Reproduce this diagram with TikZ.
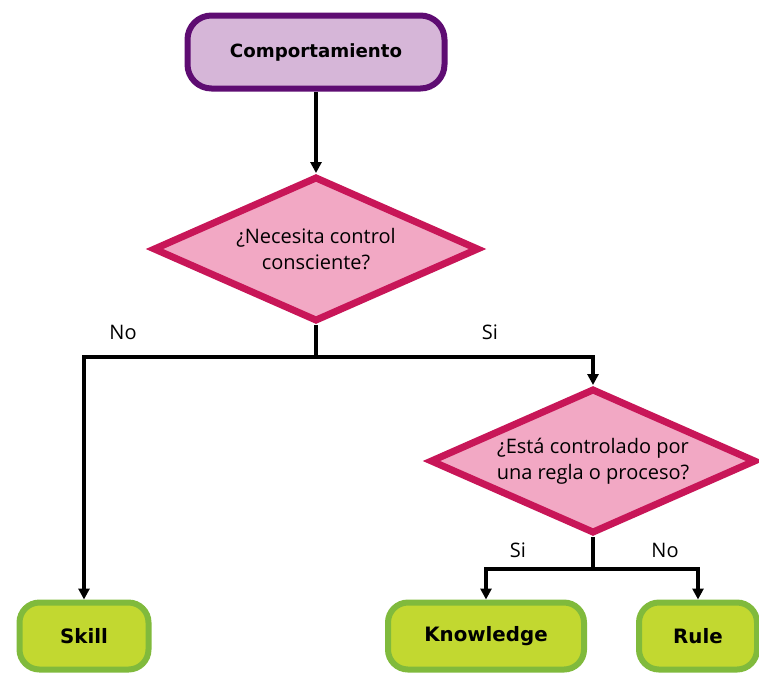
\documentclass[tikz,border=0pt]{standalone}
\usepackage{fontspec}
\setmainfont{Open Sans}
\newfontfamily\boxfont{DejaVu Sans}
\usetikzlibrary{arrows.meta,shapes.geometric}

\definecolor{purpleline}{RGB}{94,12,114}
\definecolor{purplefill}{RGB}{214,182,216}
\definecolor{pinkline}{RGB}{200,22,88}
\definecolor{pinkfill}{RGB}{242,168,196}
\definecolor{greenline}{RGB}{128,186,60}
\definecolor{greenfill}{RGB}{194,216,48}

\tikzset{
  startbox/.style={draw=purpleline,fill=purplefill,line width=6,rounded corners=24,
    minimum width=257,minimum height=73,inner sep=0,
    font=\boxfont\bfseries\fontsize{18.2}{21}\selectfont},
  question/.style={diamond,draw=pinkline,fill=pinkfill,line width=7,inner sep=0,
    shape aspect=2.3,minimum width=326,minimum height=145,align=center,
    font=\fontsize{20}{26}\selectfont},
  endbox/.style={draw=greenline,fill=greenfill,line width=6,rounded corners=20,
    minimum height=67,inner sep=0,
    font=\boxfont\bfseries\fontsize{19.8}{22}\selectfont},
  link/.style={line width=4,black},
  arrowlink/.style={link,-{Triangle[width=11,length=11]}},
  answer/.style={font=\fontsize{20}{22}\selectfont}
}

\begin{document}
\begin{tikzpicture}[x=1pt,y=1pt,yscale=-1,xscale=1]
\useasboundingbox (0,0) rectangle (759,673);

%Shape: start
\node[startbox] (comp) at (316,52) {Comportamiento};

%Shape: first question
\node[question] (q1) at (316,249) {¿Necesita control\\consciente?};

%Shape: second question
\node[question] (q2) at (593,461) {¿Está controlado por\\una regla o proceso?};

%Shape: end boxes
\node[endbox,minimum width=129] (skill) at (84,636) {Skill};
\node[endbox,minimum width=196] (know) at (486,636) {Knowledge};
\node[endbox,minimum width=118] (rule) at (698,636) {Rule};

%Branch points
\coordinate (b1) at (316,357);
\coordinate (b2) at (593,569);

%Connectors
\draw[arrowlink] (comp) -- (q1);
\draw[link] (q1.south) -- (b1);
\draw[arrowlink] (b1) -| (skill);
\draw[arrowlink] (b1) -| (q2);
\draw[link] (q2.south) -- (b2);
\draw[arrowlink] (b2) -| (know);
\draw[arrowlink] (b2) -| (rule);

%Labels
\node[answer] (no1) at (123,332) {No};
\node[answer] (si1) at (490,332) {Si};
\node[answer] (si2) at (518,550) {Si};
\node[answer] (no2) at (665,550) {No};

\end{tikzpicture}
\end{document}
